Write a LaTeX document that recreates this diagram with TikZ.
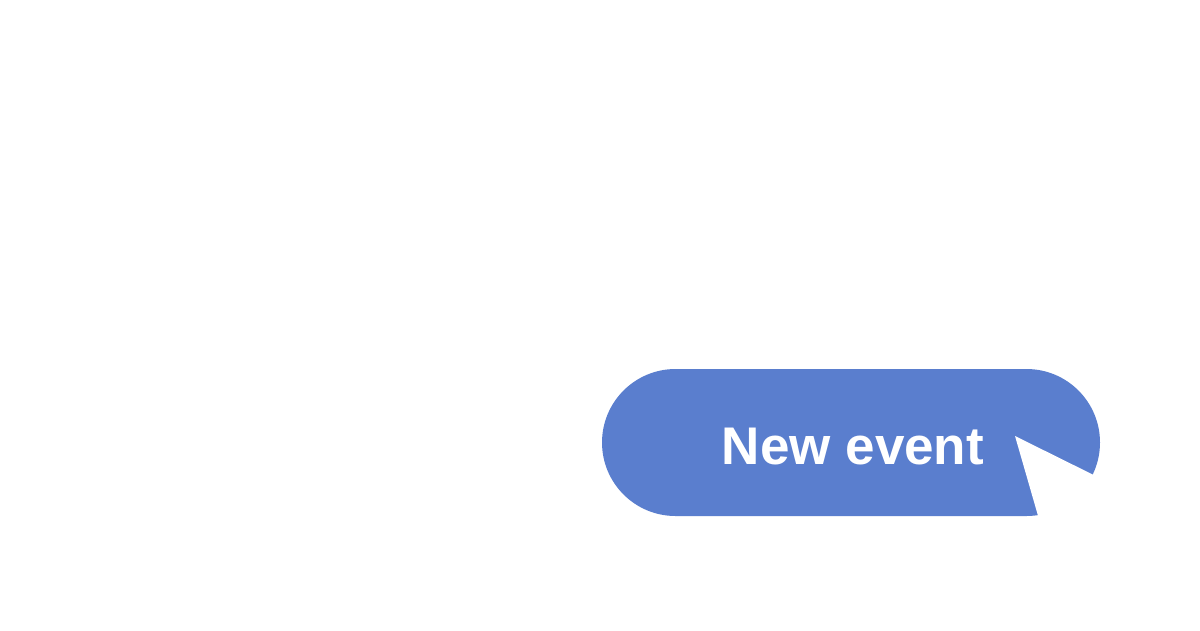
\documentclass[tikz,border=0pt]{standalone}
\usepackage{fontspec}
\setmainfont{Liberation Sans}
\definecolor{btnblue}{HTML}{5A7ECE}
\begin{document}
\begin{tikzpicture}[x=1pt,y=-1pt,
  pill/.style={fill=btnblue, draw=none, rounded corners=73.5pt, inner sep=0pt, minimum width=498pt, minimum height=147pt},
  lbl/.style={text=white, font=\fontsize{53}{53}\selectfont\bfseries, inner sep=0pt},
  cursorcut/.style={fill=white, draw=none}]
\useasboundingbox[fill=white] (0,0) rectangle (1200,630);
\node[pill] (btn) at (851,442.5) {};
\node[lbl, anchor=base] (label) at (853,464) {New event};
\coordinate (tip) at (1015,436);
\coordinate (lowend) at (1045,540);
\coordinate (corner) at (1130,540);
\coordinate (rightend) at (1130,493);
\fill[cursorcut] (tip) -- (lowend) -- (corner) -- (rightend) -- cycle;
\end{tikzpicture}
\end{document}
